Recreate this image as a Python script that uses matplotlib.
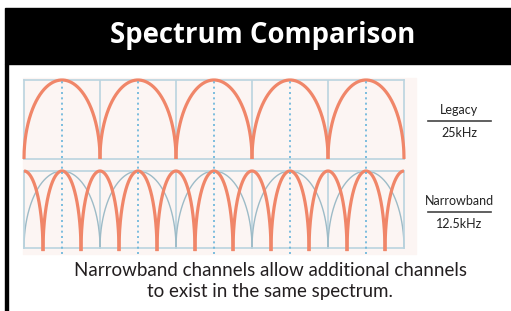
import numpy as np
import matplotlib
matplotlib.use("Agg")
import matplotlib.pyplot as plt
from matplotlib.patches import Rectangle
from matplotlib.lines import Line2D

# data (kHz)
band_edges = [0, 25, 50, 75, 100, 125]
legacy_centers = [12.5, 37.5, 62.5, 87.5, 112.5]
legacy_width = 25.0
narrow_centers = [0, 12.5, 25, 37.5, 50, 62.5, 75, 87.5, 100, 112.5, 125]
narrow_width = 12.5

title = "Spectrum Comparison"
labels_top = ("Legacy", "25kHz")
labels_bottom = ("Narrowband", "12.5kHz")
caption = ["Narrowband channels allow additional channels",
           "to exist in the same spectrum."]

W, H = 511, 311
ORANGE = "#F08669"
GRID = "#BBD4DF"
ARC_GRAY = "#9DBBC7"
DOT = "#66B4DA"
PALE = "#FCF5F3"

plt.rcParams['font.family'] = ['Lato', 'DejaVu Sans']


def box(x0, y0, x1, y1):
    # pixel box (top-left origin) -> figure fraction rect
    return [x0 / W, 1 - y1 / H, (x1 - x0) / W, (y1 - y0) / H]


def fx(x):
    return x / W


def fy(y):
    return 1 - y / H


def arch(center, width, lo=0.0, hi=125.0, n=400):
    # semi-elliptic channel shape
    u = np.linspace(-1, 1, n)
    x = center + u * width / 2
    y = np.sqrt(np.clip(1 - u ** 2, 0, 1))
    keep = (x >= lo) & (x <= hi)
    return x[keep], y[keep]


fig = plt.figure(figsize=(W / 100, H / 100), dpi=100)
fig.patch.set_facecolor("white")

# header band and left rule
fig.patches.append(Rectangle((fx(5), fy(64)), 1 - fx(5), fy(8) - fy(64),
                             transform=fig.transFigure, color="black", zorder=-2))
fig.patches.append(Rectangle((fx(5), 0), 2.5 / W, fy(64),
                             transform=fig.transFigure, color="black", zorder=-2))
fig.text(fx(263), fy(36), title, color="white", fontsize=19.8, fontweight="bold",
         family=["Open Sans", "DejaVu Sans"], ha="center", va="center")

# pale picture background
fig.patches.append(Rectangle((fx(23), fy(254)), (416 - 23) / W, (254 - 78) / H,
                             transform=fig.transFigure, color=PALE, zorder=-2))


def setup(ax):
    ax.set_xlim(0, 125)
    ax.set_ylim(0, 1)
    ax.set_facecolor("none")
    ax.set_xticks([])
    ax.set_yticks([])
    for s in ax.spines.values():
        s.set_color(GRID)
        s.set_linewidth(1.2)
    for e in band_edges[1:-1]:
        ax.axvline(e, color=GRID, lw=1.2, zorder=1)


# legacy panel
ax1 = fig.add_axes(box(24, 80, 404, 159))
setup(ax1)
for c in legacy_centers:
    x, y = arch(c, legacy_width)
    ax1.plot(x, y, color=ORANGE, lw=2.3, clip_on=False, zorder=3,
             solid_capstyle="butt")

# narrowband panel
ax2 = fig.add_axes(box(24, 171, 404, 248))
setup(ax2)
for c in legacy_centers:
    x, y = arch(c, legacy_width)
    ax2.plot(x, y, color=ARC_GRAY, lw=1.0, clip_on=False, zorder=2)
for c in narrow_centers:
    x, y = arch(c, narrow_width)
    ax2.plot(x, y * 1.04 - 0.04, color=ORANGE, lw=2.3, clip_on=False, zorder=3,
             solid_capstyle="butt")

# dotted channel-centre markers across both panels
ax3 = fig.add_axes(box(24, 78, 404, 254))
ax3.set_xlim(0, 125)
ax3.set_ylim(0, 1)
ax3.axis("off")
for c in legacy_centers:
    ax3.axvline(c, color=DOT, lw=1.2, ls=(0, (1.2, 2.0)), zorder=4)

# right-hand labels
for (a, b), yc in ((labels_top, 121), (labels_bottom, 212)):
    fig.text(fx(459), fy(yc - 11), a, fontsize=9, color="#222222",
             ha="center", va="center")
    fig.text(fx(459), fy(yc + 12), b, fontsize=9, color="#222222",
             ha="center", va="center")
    fig.lines.append(Line2D([fx(428), fx(491)], [fy(yc), fy(yc)],
                            transform=fig.transFigure, color="#444444", lw=1.2))

# caption
fig.text(fx(270), fy(270), caption[0], fontsize=13.5, color="#231F20",
         ha="center", va="center")
fig.text(fx(270), fy(292), caption[1], fontsize=13.5, color="#231F20",
         ha="center", va="center")

fig.savefig("out.png", dpi=100)
